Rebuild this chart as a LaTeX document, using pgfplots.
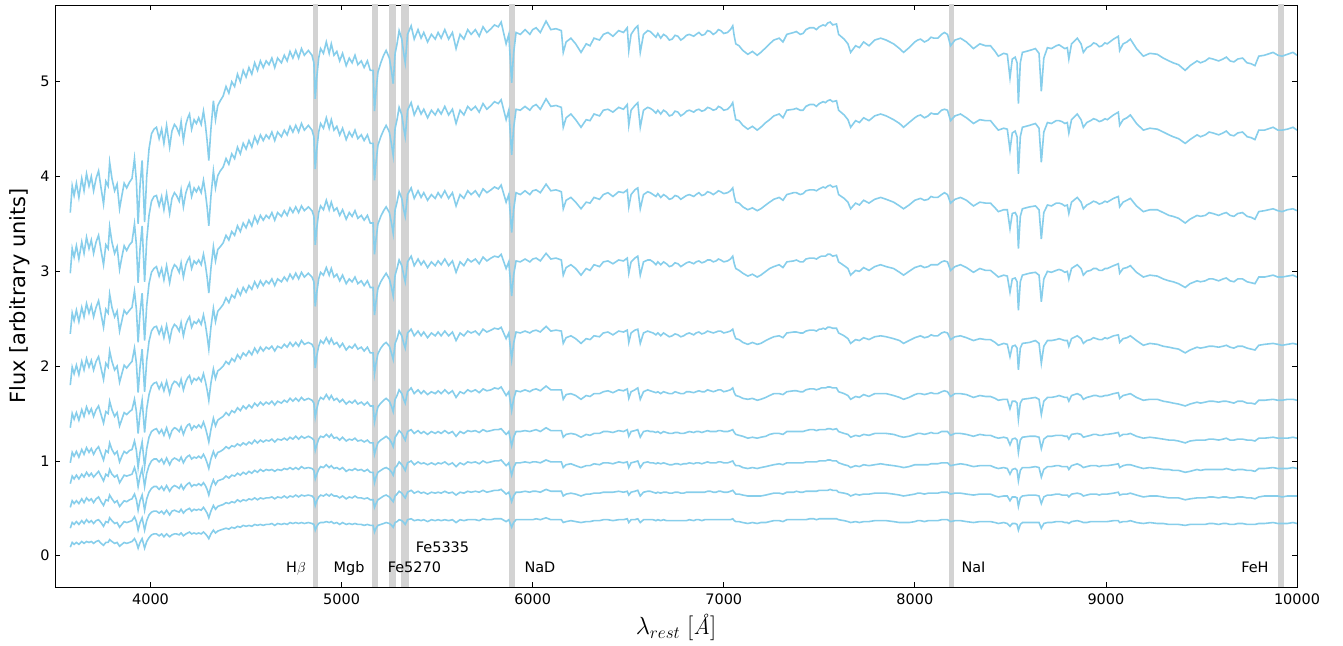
\documentclass[border=0pt]{standalone}
\usepackage{pgfplots}
\usepackage{pgfplotstable}
\pgfplotsset{compat=1.18}
\usepackage{fontspec}
\setmainfont{DejaVu Sans}
\newfontfamily\lmr{Latin Modern Roman}
\definecolor{sky}{RGB}{135,206,235}
\definecolor{bandgray}{RGB}{211,211,211}

\pgfplotstableread{
w s1 s2 s3 s4 s5 s6 s7 s8 s9 s10
3580 3.62 2.98 2.34 1.80 1.35 0.98 0.76 0.51 0.29 0.09
3590 3.90 3.24 2.56 1.99 1.50 1.09 0.84 0.58 0.35 0.14
3600 3.80 3.15 2.48 1.92 1.44 1.05 0.81 0.55 0.33 0.12
3612 3.93 3.27 2.59 2.01 1.51 1.10 0.85 0.58 0.36 0.14
3625 3.78 3.13 2.47 1.91 1.43 1.04 0.81 0.55 0.33 0.12
3640 3.98 3.31 2.62 2.05 1.54 1.12 0.86 0.60 0.37 0.15
3652 3.85 3.19 2.52 1.96 1.47 1.07 0.83 0.56 0.34 0.13
3665 4.03 3.36 2.66 2.08 1.57 1.14 0.88 0.61 0.38 0.15
3678 3.90 3.24 2.56 1.99 1.50 1.09 0.84 0.58 0.35 0.14
3690 4.00 3.33 2.64 2.06 1.55 1.13 0.87 0.60 0.37 0.15
3702 3.85 3.19 2.52 1.96 1.47 1.07 0.83 0.56 0.34 0.13
3715 3.98 3.31 2.62 2.05 1.54 1.12 0.86 0.60 0.37 0.15
3728 4.06 3.38 2.69 2.10 1.58 1.15 0.89 0.62 0.38 0.16
3741 3.88 3.22 2.55 1.98 1.49 1.08 0.84 0.57 0.35 0.13
3754 3.71 3.07 2.41 1.86 1.40 1.01 0.79 0.53 0.31 0.11
3766 3.95 3.28 2.60 2.03 1.52 1.11 0.86 0.59 0.36 0.14
3778 3.90 3.24 2.56 1.99 1.50 1.09 0.84 0.58 0.35 0.14
3786 4.15 3.47 2.76 2.16 1.63 1.19 0.91 0.64 0.40 0.17
3798 3.98 3.31 2.62 2.05 1.54 1.12 0.86 0.60 0.37 0.15
3812 3.85 3.19 2.52 1.96 1.47 1.07 0.83 0.56 0.34 0.13
3825 3.92 3.26 2.58 2.00 1.51 1.10 0.85 0.58 0.35 0.14
3838 3.66 3.02 2.37 1.83 1.37 0.99 0.77 0.52 0.30 0.10
3850 3.80 3.15 2.48 1.92 1.44 1.05 0.81 0.55 0.33 0.12
3862 3.93 3.27 2.59 2.01 1.51 1.10 0.85 0.58 0.36 0.14
3875 3.88 3.22 2.55 1.98 1.49 1.08 0.84 0.57 0.35 0.13
3890 3.94 3.28 2.59 2.02 1.52 1.11 0.85 0.59 0.36 0.14
3903 3.98 3.31 2.62 2.05 1.54 1.12 0.86 0.60 0.37 0.15
3916 4.19 3.50 2.79 2.19 1.65 1.21 0.93 0.65 0.41 0.18
3926 3.95 3.28 2.60 2.03 1.52 1.11 0.86 0.59 0.36 0.14
3935 3.50 2.88 2.25 1.72 1.29 0.93 0.73 0.48 0.27 0.08
3945 3.90 3.24 2.56 1.99 1.50 1.09 0.84 0.58 0.35 0.14
3956 4.17 3.48 2.77 2.18 1.64 1.20 0.92 0.64 0.40 0.18
3969 3.52 2.89 2.27 1.73 1.30 0.94 0.73 0.48 0.27 0.08
3980 4.00 3.33 2.64 2.06 1.55 1.13 0.87 0.60 0.37 0.15
3992 4.29 3.59 2.87 2.26 1.70 1.25 0.95 0.67 0.43 0.19
4005 4.45 3.74 2.99 2.37 1.79 1.31 1.00 0.71 0.46 0.22
4018 4.50 3.79 3.03 2.41 1.82 1.33 1.02 0.73 0.47 0.23
4031 4.52 3.80 3.05 2.42 1.83 1.34 1.02 0.73 0.47 0.23
4045 4.40 3.69 2.95 2.34 1.76 1.29 0.99 0.70 0.45 0.21
4058 4.50 3.79 3.03 2.41 1.82 1.33 1.02 0.73 0.47 0.23
4070 4.35 3.65 2.91 2.30 1.74 1.27 0.97 0.69 0.44 0.20
4084 4.54 3.82 3.06 2.43 1.84 1.35 1.03 0.74 0.48 0.23
4100 4.31 3.61 2.88 2.27 1.71 1.25 0.96 0.68 0.43 0.20
4112 4.48 3.77 3.01 2.39 1.80 1.32 1.01 0.72 0.47 0.22
4125 4.55 3.83 3.07 2.44 1.84 1.35 1.03 0.74 0.48 0.23
4136 4.52 3.80 3.05 2.42 1.83 1.34 1.02 0.73 0.47 0.23
4150 4.45 3.74 2.99 2.37 1.79 1.31 1.00 0.71 0.46 0.22
4160 4.58 3.86 3.09 2.46 1.86 1.36 1.04 0.75 0.49 0.24
4172 4.38 3.68 2.94 2.32 1.75 1.28 0.98 0.70 0.45 0.21
4185 4.55 3.83 3.07 2.44 1.84 1.35 1.03 0.74 0.48 0.23
4195 4.62 3.89 3.12 2.49 1.88 1.38 1.05 0.76 0.49 0.24
4204 4.66 3.93 3.15 2.52 1.90 1.39 1.06 0.77 0.50 0.25
4215 4.50 3.79 3.03 2.41 1.82 1.33 1.02 0.73 0.47 0.23
4228 4.60 3.88 3.11 2.47 1.87 1.37 1.04 0.75 0.49 0.24
4240 4.56 3.84 3.08 2.45 1.85 1.35 1.03 0.74 0.48 0.23
4252 4.62 3.89 3.12 2.49 1.88 1.38 1.05 0.76 0.49 0.24
4265 4.55 3.83 3.07 2.44 1.84 1.35 1.03 0.74 0.48 0.23
4277 4.69 3.96 3.18 2.54 1.92 1.41 1.07 0.77 0.51 0.25
4287 4.55 3.83 3.07 2.44 1.84 1.35 1.03 0.74 0.48 0.23
4296 4.38 3.68 2.94 2.32 1.75 1.28 0.98 0.70 0.45 0.21
4305 4.17 3.48 2.77 2.18 1.64 1.20 0.92 0.64 0.40 0.18
4316 4.50 3.79 3.03 2.41 1.82 1.33 1.02 0.73 0.47 0.23
4329 4.80 4.06 3.26 2.61 1.97 1.45 1.10 0.80 0.53 0.27
4340 4.60 3.88 3.11 2.47 1.87 1.37 1.04 0.75 0.49 0.24
4352 4.75 4.01 3.23 2.58 1.95 1.43 1.09 0.79 0.52 0.26
4365 4.80 4.06 3.26 2.61 1.97 1.45 1.10 0.80 0.53 0.27
4380 4.85 4.10 3.30 2.65 2.00 1.47 1.12 0.81 0.54 0.28
4395 4.95 4.19 3.38 2.72 2.05 1.51 1.15 0.84 0.56 0.29
4410 4.88 4.13 3.33 2.67 2.02 1.48 1.13 0.82 0.55 0.28
4425 5.00 4.24 3.42 2.75 2.08 1.53 1.16 0.85 0.57 0.30
4440 4.95 4.19 3.38 2.72 2.05 1.51 1.15 0.84 0.56 0.29
4455 5.08 4.31 3.48 2.81 2.12 1.56 1.18 0.87 0.59 0.31
4470 5.00 4.24 3.42 2.75 2.08 1.53 1.16 0.85 0.57 0.30
4485 5.12 4.35 3.51 2.83 2.14 1.58 1.19 0.88 0.59 0.32
4500 5.05 4.29 3.46 2.78 2.11 1.55 1.17 0.86 0.58 0.31
4515 5.15 4.38 3.54 2.85 2.16 1.59 1.20 0.89 0.60 0.32
4530 5.08 4.31 3.48 2.81 2.12 1.56 1.18 0.87 0.59 0.31
4545 5.20 4.42 3.58 2.89 2.19 1.61 1.22 0.90 0.61 0.33
4560 5.12 4.35 3.51 2.83 2.14 1.58 1.19 0.88 0.59 0.32
4575 5.22 4.44 3.59 2.90 2.20 1.62 1.22 0.91 0.61 0.33
4590 5.15 4.38 3.54 2.85 2.16 1.59 1.20 0.89 0.60 0.32
4605 5.22 4.44 3.59 2.90 2.20 1.62 1.22 0.91 0.61 0.33
4620 5.18 4.40 3.56 2.87 2.18 1.60 1.21 0.90 0.61 0.33
4635 5.25 4.47 3.62 2.92 2.21 1.63 1.23 0.91 0.62 0.34
4650 5.15 4.38 3.54 2.85 2.16 1.59 1.20 0.89 0.60 0.32
4665 5.25 4.47 3.62 2.92 2.21 1.63 1.23 0.91 0.62 0.34
4685 5.20 4.42 3.58 2.89 2.19 1.61 1.22 0.90 0.61 0.33
4700 5.28 4.49 3.64 2.94 2.23 1.64 1.24 0.92 0.63 0.34
4715 5.22 4.44 3.59 2.90 2.20 1.62 1.22 0.91 0.61 0.33
4730 5.32 4.53 3.67 2.97 2.25 1.66 1.25 0.93 0.63 0.35
4745 5.25 4.47 3.62 2.92 2.21 1.63 1.23 0.91 0.62 0.34
4760 5.33 4.54 3.68 2.98 2.25 1.66 1.26 0.93 0.64 0.35
4775 5.25 4.47 3.62 2.92 2.21 1.63 1.23 0.91 0.62 0.34
4790 5.35 4.56 3.69 2.99 2.27 1.67 1.26 0.94 0.64 0.35
4805 5.28 4.49 3.64 2.94 2.23 1.64 1.24 0.92 0.63 0.34
4826 5.33 4.54 3.68 2.98 2.25 1.66 1.26 0.93 0.64 0.35
4845 5.28 4.49 3.64 2.94 2.23 1.64 1.24 0.92 0.63 0.34
4855 5.20 4.42 3.58 2.89 2.19 1.61 1.22 0.90 0.61 0.33
4862 4.82 4.08 3.28 2.63 1.98 1.46 1.11 0.81 0.53 0.27
4870 5.05 4.29 3.46 2.78 2.11 1.55 1.17 0.86 0.58 0.31
4880 5.25 4.47 3.62 2.92 2.21 1.63 1.23 0.91 0.62 0.34
4890 5.35 4.56 3.69 2.99 2.27 1.67 1.26 0.94 0.64 0.35
4905 5.30 4.51 3.65 2.96 2.24 1.65 1.25 0.93 0.63 0.35
4920 5.42 4.62 3.75 3.04 2.30 1.70 1.28 0.96 0.65 0.36
4935 5.30 4.51 3.65 2.96 2.24 1.65 1.25 0.93 0.63 0.35
4946 5.40 4.60 3.73 3.03 2.29 1.69 1.28 0.95 0.65 0.36
4960 5.28 4.49 3.64 2.94 2.23 1.64 1.24 0.92 0.63 0.34
4975 5.32 4.53 3.67 2.97 2.25 1.66 1.25 0.93 0.63 0.35
4990 5.22 4.44 3.59 2.90 2.20 1.62 1.22 0.91 0.61 0.33
5005 5.30 4.51 3.65 2.96 2.24 1.65 1.25 0.93 0.63 0.35
5024 5.17 4.39 3.55 2.87 2.17 1.60 1.21 0.89 0.60 0.33
5040 5.25 4.47 3.62 2.92 2.21 1.63 1.23 0.91 0.62 0.34
5055 5.20 4.42 3.58 2.89 2.19 1.61 1.22 0.90 0.61 0.33
5070 5.28 4.49 3.64 2.94 2.23 1.64 1.24 0.92 0.63 0.34
5085 5.18 4.40 3.56 2.87 2.18 1.60 1.21 0.90 0.61 0.33
5103 5.22 4.44 3.59 2.90 2.20 1.62 1.22 0.91 0.61 0.33
5118 5.15 4.38 3.54 2.85 2.16 1.59 1.20 0.89 0.60 0.32
5135 5.22 4.44 3.59 2.90 2.20 1.62 1.22 0.91 0.61 0.33
5150 5.12 4.35 3.51 2.83 2.14 1.58 1.19 0.88 0.59 0.32
5165 5.12 4.35 3.51 2.83 2.14 1.58 1.19 0.88 0.59 0.32
5172 4.69 3.96 3.18 2.54 1.92 1.41 1.07 0.77 0.51 0.25
5180 4.90 4.15 3.34 2.68 2.03 1.49 1.13 0.83 0.55 0.29
5190 5.10 4.33 3.50 2.82 2.13 1.57 1.19 0.88 0.59 0.32
5205 5.20 4.42 3.58 2.89 2.19 1.61 1.22 0.90 0.61 0.33
5220 5.28 4.49 3.64 2.94 2.23 1.64 1.24 0.92 0.63 0.34
5233 5.33 4.54 3.68 2.98 2.25 1.66 1.26 0.93 0.64 0.35
5250 5.25 4.47 3.62 2.92 2.21 1.63 1.23 0.91 0.62 0.34
5262 5.10 4.33 3.50 2.82 2.13 1.57 1.19 0.88 0.59 0.32
5270 4.98 4.22 3.40 2.74 2.07 1.52 1.15 0.85 0.57 0.30
5280 5.30 4.51 3.65 2.96 2.24 1.65 1.25 0.93 0.63 0.35
5290 5.40 4.60 3.73 3.03 2.29 1.69 1.28 0.95 0.65 0.36
5301 5.54 4.73 3.84 3.12 2.37 1.75 1.32 0.99 0.68 0.38
5315 5.45 4.65 3.77 3.06 2.32 1.71 1.29 0.96 0.66 0.37
5325 5.30 4.51 3.65 2.96 2.24 1.65 1.25 0.93 0.63 0.35
5333 5.20 4.42 3.58 2.89 2.19 1.61 1.22 0.90 0.61 0.33
5345 5.50 4.70 3.81 3.10 2.35 1.73 1.31 0.98 0.67 0.38
5364 5.59 4.78 3.88 3.16 2.39 1.77 1.33 1.00 0.69 0.39
5380 5.45 4.65 3.77 3.06 2.32 1.71 1.29 0.96 0.66 0.37
5400 5.55 4.74 3.85 3.13 2.37 1.75 1.32 0.99 0.68 0.38
5416 5.46 4.66 3.78 3.07 2.32 1.71 1.29 0.97 0.66 0.37
5430 5.52 4.71 3.83 3.11 2.36 1.74 1.31 0.98 0.67 0.38
5450 5.42 4.62 3.75 3.04 2.30 1.70 1.28 0.96 0.65 0.36
5470 5.50 4.70 3.81 3.10 2.35 1.73 1.31 0.98 0.67 0.38
5490 5.45 4.65 3.77 3.06 2.32 1.71 1.29 0.96 0.66 0.37
5505 5.52 4.71 3.83 3.11 2.36 1.74 1.31 0.98 0.67 0.38
5521 5.46 4.66 3.78 3.07 2.32 1.71 1.29 0.97 0.66 0.37
5540 5.55 4.74 3.85 3.13 2.37 1.75 1.32 0.99 0.68 0.38
5560 5.45 4.65 3.77 3.06 2.32 1.71 1.29 0.96 0.66 0.37
5580 5.52 4.71 3.83 3.11 2.36 1.74 1.31 0.98 0.67 0.38
5599 5.35 4.56 3.69 2.99 2.27 1.67 1.26 0.94 0.64 0.35
5620 5.50 4.70 3.81 3.10 2.35 1.73 1.31 0.98 0.67 0.38
5640 5.45 4.65 3.77 3.06 2.32 1.71 1.29 0.96 0.66 0.37
5660 5.55 4.74 3.85 3.13 2.37 1.75 1.32 0.99 0.68 0.38
5678 5.50 4.70 3.81 3.10 2.35 1.73 1.31 0.98 0.67 0.38
5700 5.55 4.74 3.85 3.13 2.37 1.75 1.32 0.99 0.68 0.38
5720 5.48 4.68 3.79 3.08 2.33 1.72 1.30 0.97 0.67 0.37
5740 5.58 4.77 3.87 3.15 2.39 1.76 1.33 1.00 0.69 0.39
5760 5.52 4.71 3.83 3.11 2.36 1.74 1.31 0.98 0.67 0.38
5782 5.56 4.75 3.86 3.14 2.38 1.75 1.32 0.99 0.68 0.38
5800 5.60 4.79 3.89 3.16 2.40 1.77 1.33 1.00 0.69 0.39
5820 5.58 4.77 3.87 3.15 2.39 1.76 1.33 1.00 0.69 0.39
5835 5.63 4.81 3.91 3.18 2.41 1.78 1.34 1.01 0.70 0.39
5861 5.40 4.60 3.73 3.03 2.29 1.69 1.28 0.95 0.65 0.36
5875 5.50 4.70 3.81 3.10 2.35 1.73 1.31 0.98 0.67 0.38
5890 4.99 4.23 3.41 2.74 2.07 1.53 1.16 0.85 0.57 0.30
5900 5.30 4.51 3.65 2.96 2.24 1.65 1.25 0.93 0.63 0.35
5913 5.52 4.71 3.83 3.11 2.36 1.74 1.31 0.98 0.67 0.38
5935 5.50 4.70 3.81 3.10 2.35 1.73 1.31 0.98 0.67 0.38
5960 5.55 4.74 3.85 3.13 2.37 1.75 1.32 0.99 0.68 0.38
5985 5.50 4.70 3.81 3.10 2.35 1.73 1.31 0.98 0.67 0.38
6000 5.55 4.74 3.85 3.13 2.37 1.75 1.32 0.99 0.68 0.38
6018 5.57 4.76 3.86 3.14 2.38 1.76 1.33 0.99 0.68 0.39
6040 5.52 4.71 3.83 3.11 2.36 1.74 1.31 0.98 0.67 0.38
6070 5.64 4.82 3.92 3.19 2.42 1.79 1.35 1.01 0.70 0.40
6095 5.55 4.74 3.85 3.13 2.37 1.75 1.32 0.99 0.68 0.38
6122 5.56 4.75 3.86 3.14 2.38 1.75 1.32 0.99 0.68 0.38
6150 5.54 4.73 3.84 3.12 2.37 1.75 1.32 0.99 0.68 0.38
6160 5.31 4.52 3.66 2.96 2.24 1.65 1.25 0.93 0.63 0.35
6175 5.42 4.62 3.75 3.04 2.30 1.70 1.28 0.96 0.65 0.36
6200 5.46 4.66 3.78 3.07 2.32 1.71 1.29 0.97 0.66 0.37
6225 5.40 4.60 3.73 3.03 2.29 1.69 1.28 0.95 0.65 0.36
6253 5.31 4.52 3.66 2.96 2.24 1.65 1.25 0.93 0.63 0.35
6280 5.40 4.60 3.73 3.03 2.29 1.69 1.28 0.95 0.65 0.36
6300 5.38 4.59 3.72 3.01 2.28 1.68 1.27 0.95 0.65 0.36
6321 5.46 4.66 3.78 3.07 2.32 1.71 1.29 0.97 0.66 0.37
6350 5.44 4.64 3.76 3.05 2.31 1.71 1.29 0.96 0.66 0.37
6370 5.50 4.70 3.81 3.10 2.35 1.73 1.31 0.98 0.67 0.38
6394 5.52 4.71 3.83 3.11 2.36 1.74 1.31 0.98 0.67 0.38
6420 5.48 4.68 3.79 3.08 2.33 1.72 1.30 0.97 0.67 0.37
6450 5.54 4.73 3.84 3.12 2.37 1.75 1.32 0.99 0.68 0.38
6475 5.52 4.71 3.83 3.11 2.36 1.74 1.31 0.98 0.67 0.38
6495 5.57 4.76 3.86 3.14 2.38 1.76 1.33 0.99 0.68 0.39
6503 5.33 4.54 3.68 2.98 2.25 1.66 1.26 0.93 0.64 0.35
6515 5.50 4.70 3.81 3.10 2.35 1.73 1.31 0.98 0.67 0.38
6535 5.56 4.75 3.86 3.14 2.38 1.75 1.32 0.99 0.68 0.38
6550 5.59 4.78 3.88 3.16 2.39 1.77 1.33 1.00 0.69 0.39
6563 5.31 4.52 3.66 2.96 2.24 1.65 1.25 0.93 0.63 0.35
6580 5.50 4.70 3.81 3.10 2.35 1.73 1.31 0.98 0.67 0.38
6602 5.54 4.73 3.84 3.12 2.37 1.75 1.32 0.99 0.68 0.38
6615 5.53 4.72 3.83 3.12 2.36 1.74 1.31 0.98 0.68 0.38
6630 5.50 4.70 3.81 3.10 2.35 1.73 1.31 0.98 0.67 0.38
6645 5.47 4.67 3.79 3.07 2.33 1.72 1.30 0.97 0.66 0.37
6655 5.51 4.70 3.82 3.10 2.35 1.73 1.31 0.98 0.67 0.38
6670 5.46 4.66 3.78 3.07 2.32 1.71 1.29 0.97 0.66 0.37
6685 5.50 4.70 3.81 3.10 2.35 1.73 1.31 0.98 0.67 0.38
6700 5.48 4.68 3.79 3.08 2.33 1.72 1.30 0.97 0.67 0.37
6715 5.44 4.64 3.76 3.05 2.31 1.71 1.29 0.96 0.66 0.37
6730 5.45 4.65 3.77 3.06 2.32 1.71 1.29 0.96 0.66 0.37
6745 5.49 4.69 3.80 3.09 2.34 1.73 1.30 0.97 0.67 0.37
6760 5.48 4.68 3.79 3.08 2.33 1.72 1.30 0.97 0.67 0.37
6775 5.44 4.64 3.76 3.05 2.31 1.71 1.29 0.96 0.66 0.37
6790 5.46 4.66 3.78 3.07 2.32 1.71 1.29 0.97 0.66 0.37
6805 5.49 4.69 3.80 3.09 2.34 1.73 1.30 0.97 0.67 0.37
6820 5.50 4.70 3.81 3.10 2.35 1.73 1.31 0.98 0.67 0.38
6843 5.48 4.68 3.79 3.08 2.33 1.72 1.30 0.97 0.67 0.37
6855 5.50 4.70 3.81 3.10 2.35 1.73 1.31 0.98 0.67 0.38
6870 5.52 4.71 3.83 3.11 2.36 1.74 1.31 0.98 0.67 0.38
6885 5.49 4.69 3.80 3.09 2.34 1.73 1.30 0.97 0.67 0.37
6900 5.50 4.70 3.81 3.10 2.35 1.73 1.31 0.98 0.67 0.38
6915 5.54 4.73 3.84 3.12 2.37 1.75 1.32 0.99 0.68 0.38
6930 5.53 4.72 3.83 3.12 2.36 1.74 1.31 0.98 0.68 0.38
6945 5.50 4.70 3.81 3.10 2.35 1.73 1.31 0.98 0.67 0.38
6960 5.52 4.71 3.83 3.11 2.36 1.74 1.31 0.98 0.67 0.38
6972 5.55 4.74 3.85 3.13 2.37 1.75 1.32 0.99 0.68 0.38
6984 5.54 4.73 3.84 3.12 2.37 1.75 1.32 0.99 0.68 0.38
7000 5.51 4.70 3.82 3.10 2.35 1.73 1.31 0.98 0.67 0.38
7020 5.52 4.71 3.83 3.11 2.36 1.74 1.31 0.98 0.67 0.38
7035 5.55 4.74 3.85 3.13 2.37 1.75 1.32 0.99 0.68 0.38
7047 5.59 4.78 3.88 3.16 2.39 1.77 1.33 1.00 0.69 0.39
7055 5.48 4.68 3.79 3.08 2.33 1.72 1.30 0.97 0.67 0.37
7063 5.40 4.60 3.73 3.03 2.29 1.69 1.28 0.95 0.65 0.36
7080 5.38 4.59 3.72 3.01 2.28 1.68 1.27 0.95 0.65 0.36
7100 5.33 4.54 3.68 2.98 2.25 1.66 1.26 0.93 0.64 0.35
7126 5.29 4.50 3.65 2.95 2.23 1.65 1.24 0.92 0.63 0.34
7150 5.32 4.53 3.67 2.97 2.25 1.66 1.25 0.93 0.63 0.35
7175 5.28 4.49 3.64 2.94 2.23 1.64 1.24 0.92 0.63 0.34
7194 5.31 4.52 3.66 2.96 2.24 1.65 1.25 0.93 0.63 0.35
7220 5.36 4.57 3.70 3.00 2.27 1.67 1.26 0.94 0.64 0.35
7240 5.40 4.60 3.73 3.03 2.29 1.69 1.28 0.95 0.65 0.36
7262 5.44 4.64 3.76 3.05 2.31 1.71 1.29 0.96 0.66 0.37
7290 5.46 4.66 3.78 3.07 2.32 1.71 1.29 0.97 0.66 0.37
7310 5.42 4.62 3.75 3.04 2.30 1.70 1.28 0.96 0.65 0.36
7330 5.50 4.70 3.81 3.10 2.35 1.73 1.31 0.98 0.67 0.38
7366 5.52 4.71 3.83 3.11 2.36 1.74 1.31 0.98 0.67 0.38
7380 5.53 4.72 3.83 3.12 2.36 1.74 1.31 0.98 0.68 0.38
7400 5.50 4.70 3.81 3.10 2.35 1.73 1.31 0.98 0.67 0.38
7415 5.51 4.70 3.82 3.10 2.35 1.73 1.31 0.98 0.67 0.38
7430 5.55 4.74 3.85 3.13 2.37 1.75 1.32 0.99 0.68 0.38
7450 5.57 4.76 3.86 3.14 2.38 1.76 1.33 0.99 0.68 0.39
7471 5.57 4.76 3.86 3.14 2.38 1.76 1.33 0.99 0.68 0.39
7485 5.55 4.74 3.85 3.13 2.37 1.75 1.32 0.99 0.68 0.38
7500 5.58 4.77 3.87 3.15 2.39 1.76 1.33 1.00 0.69 0.39
7510 5.59 4.78 3.88 3.16 2.39 1.77 1.33 1.00 0.69 0.39
7520 5.60 4.79 3.89 3.16 2.40 1.77 1.33 1.00 0.69 0.39
7532 5.59 4.78 3.88 3.16 2.39 1.77 1.33 1.00 0.69 0.39
7544 5.62 4.80 3.90 3.18 2.41 1.78 1.34 1.01 0.69 0.39
7557 5.63 4.81 3.91 3.18 2.41 1.78 1.34 1.01 0.70 0.39
7570 5.60 4.79 3.89 3.16 2.40 1.77 1.33 1.00 0.69 0.39
7590 5.61 4.80 3.90 3.17 2.40 1.77 1.34 1.00 0.69 0.39
7601 5.50 4.70 3.81 3.10 2.35 1.73 1.31 0.98 0.67 0.38
7630 5.45 4.65 3.77 3.06 2.32 1.71 1.29 0.96 0.66 0.37
7650 5.40 4.60 3.73 3.03 2.29 1.69 1.28 0.95 0.65 0.36
7664 5.31 4.52 3.66 2.96 2.24 1.65 1.25 0.93 0.63 0.35
7690 5.38 4.59 3.72 3.01 2.28 1.68 1.27 0.95 0.65 0.36
7710 5.36 4.57 3.70 3.00 2.27 1.67 1.26 0.94 0.64 0.35
7732 5.42 4.62 3.75 3.04 2.30 1.70 1.28 0.96 0.65 0.36
7760 5.38 4.59 3.72 3.01 2.28 1.68 1.27 0.95 0.65 0.36
7790 5.44 4.64 3.76 3.05 2.31 1.71 1.29 0.96 0.66 0.37
7821 5.46 4.66 3.78 3.07 2.32 1.71 1.29 0.97 0.66 0.37
7850 5.44 4.64 3.76 3.05 2.31 1.71 1.29 0.96 0.66 0.37
7889 5.40 4.60 3.73 3.03 2.29 1.69 1.28 0.95 0.65 0.36
7920 5.35 4.56 3.69 2.99 2.27 1.67 1.26 0.94 0.64 0.35
7941 5.31 4.52 3.66 2.96 2.24 1.65 1.25 0.93 0.63 0.35
7970 5.36 4.57 3.70 3.00 2.27 1.67 1.26 0.94 0.64 0.35
8000 5.42 4.62 3.75 3.04 2.30 1.70 1.28 0.96 0.65 0.36
8015 5.44 4.64 3.76 3.05 2.31 1.71 1.29 0.96 0.66 0.37
8030 5.45 4.65 3.77 3.06 2.32 1.71 1.29 0.96 0.66 0.37
8050 5.42 4.62 3.75 3.04 2.30 1.70 1.28 0.96 0.65 0.36
8070 5.44 4.64 3.76 3.05 2.31 1.71 1.29 0.96 0.66 0.37
8085 5.47 4.67 3.79 3.07 2.33 1.72 1.30 0.97 0.66 0.37
8100 5.46 4.66 3.78 3.07 2.32 1.71 1.29 0.97 0.66 0.37
8120 5.46 4.66 3.78 3.07 2.32 1.71 1.29 0.97 0.66 0.37
8140 5.50 4.70 3.81 3.10 2.35 1.73 1.31 0.98 0.67 0.38
8155 5.52 4.71 3.83 3.11 2.36 1.74 1.31 0.98 0.67 0.38
8171 5.50 4.70 3.81 3.10 2.35 1.73 1.31 0.98 0.67 0.38
8187 5.38 4.59 3.72 3.01 2.28 1.68 1.27 0.95 0.65 0.36
8210 5.44 4.64 3.76 3.05 2.31 1.71 1.29 0.96 0.66 0.37
8239 5.46 4.66 3.78 3.07 2.32 1.71 1.29 0.97 0.66 0.37
8270 5.42 4.62 3.75 3.04 2.30 1.70 1.28 0.96 0.65 0.36
8307 5.35 4.56 3.69 2.99 2.27 1.67 1.26 0.94 0.64 0.35
8340 5.40 4.60 3.73 3.03 2.29 1.69 1.28 0.95 0.65 0.36
8370 5.38 4.59 3.72 3.01 2.28 1.68 1.27 0.95 0.65 0.36
8396 5.38 4.59 3.72 3.01 2.28 1.68 1.27 0.95 0.65 0.36
8420 5.32 4.53 3.67 2.97 2.25 1.66 1.25 0.93 0.63 0.35
8437 5.27 4.49 3.63 2.94 2.22 1.64 1.24 0.92 0.62 0.34
8465 5.30 4.51 3.65 2.96 2.24 1.65 1.25 0.93 0.63 0.35
8484 5.29 4.50 3.65 2.95 2.23 1.65 1.24 0.92 0.63 0.34
8498 5.04 4.28 3.45 2.78 2.10 1.55 1.17 0.86 0.58 0.31
8510 5.24 4.46 3.61 2.92 2.21 1.63 1.23 0.91 0.62 0.34
8525 5.26 4.48 3.62 2.93 2.22 1.63 1.24 0.92 0.62 0.34
8535 5.20 4.42 3.58 2.89 2.19 1.61 1.22 0.90 0.61 0.33
8542 4.77 4.03 3.24 2.59 1.96 1.44 1.09 0.79 0.52 0.27
8552 5.20 4.42 3.58 2.89 2.19 1.61 1.22 0.90 0.61 0.33
8563 5.31 4.52 3.66 2.96 2.24 1.65 1.25 0.93 0.63 0.35
8600 5.33 4.54 3.68 2.98 2.25 1.66 1.26 0.93 0.64 0.35
8631 5.35 4.56 3.69 2.99 2.27 1.67 1.26 0.94 0.64 0.35
8650 5.30 4.51 3.65 2.96 2.24 1.65 1.25 0.93 0.63 0.35
8662 4.90 4.15 3.34 2.68 2.03 1.49 1.13 0.83 0.55 0.29
8675 5.25 4.47 3.62 2.92 2.21 1.63 1.23 0.91 0.62 0.34
8694 5.36 4.57 3.70 3.00 2.27 1.67 1.26 0.94 0.64 0.35
8715 5.35 4.56 3.69 2.99 2.27 1.67 1.26 0.94 0.64 0.35
8740 5.38 4.59 3.72 3.01 2.28 1.68 1.27 0.95 0.65 0.36
8755 5.39 4.59 3.72 3.02 2.29 1.69 1.27 0.95 0.65 0.36
8770 5.37 4.58 3.71 3.01 2.28 1.68 1.27 0.94 0.64 0.36
8785 5.35 4.56 3.69 2.99 2.27 1.67 1.26 0.94 0.64 0.35
8798 5.36 4.57 3.70 3.00 2.27 1.67 1.26 0.94 0.64 0.35
8806 5.24 4.46 3.61 2.92 2.21 1.63 1.23 0.91 0.62 0.34
8820 5.40 4.60 3.73 3.03 2.29 1.69 1.28 0.95 0.65 0.36
8850 5.46 4.66 3.78 3.07 2.32 1.71 1.29 0.97 0.66 0.37
8870 5.40 4.60 3.73 3.03 2.29 1.69 1.28 0.95 0.65 0.36
8882 5.31 4.52 3.66 2.96 2.24 1.65 1.25 0.93 0.63 0.35
8900 5.36 4.57 3.70 3.00 2.27 1.67 1.26 0.94 0.64 0.35
8920 5.38 4.59 3.72 3.01 2.28 1.68 1.27 0.95 0.65 0.36
8935 5.41 4.61 3.74 3.03 2.30 1.69 1.28 0.95 0.65 0.36
8950 5.40 4.60 3.73 3.03 2.29 1.69 1.28 0.95 0.65 0.36
8965 5.37 4.58 3.71 3.01 2.28 1.68 1.27 0.94 0.64 0.36
8980 5.38 4.59 3.72 3.01 2.28 1.68 1.27 0.95 0.65 0.36
8995 5.41 4.61 3.74 3.03 2.30 1.69 1.28 0.95 0.65 0.36
9007 5.40 4.60 3.73 3.03 2.29 1.69 1.28 0.95 0.65 0.36
9040 5.45 4.65 3.77 3.06 2.32 1.71 1.29 0.96 0.66 0.37
9065 5.48 4.68 3.79 3.08 2.33 1.72 1.30 0.97 0.67 0.37
9072 5.33 4.54 3.68 2.98 2.25 1.66 1.26 0.93 0.64 0.35
9090 5.40 4.60 3.73 3.03 2.29 1.69 1.28 0.95 0.65 0.36
9110 5.42 4.62 3.75 3.04 2.30 1.70 1.28 0.96 0.65 0.36
9128 5.45 4.65 3.77 3.06 2.32 1.71 1.29 0.96 0.66 0.37
9160 5.35 4.56 3.69 2.99 2.27 1.67 1.26 0.94 0.64 0.35
9196 5.27 4.49 3.63 2.94 2.22 1.64 1.24 0.92 0.62 0.34
9230 5.30 4.51 3.65 2.96 2.24 1.65 1.25 0.93 0.63 0.35
9269 5.29 4.50 3.65 2.95 2.23 1.65 1.24 0.92 0.63 0.34
9300 5.25 4.47 3.62 2.92 2.21 1.63 1.23 0.91 0.62 0.34
9330 5.22 4.44 3.59 2.90 2.20 1.62 1.22 0.91 0.61 0.33
9352 5.20 4.42 3.58 2.89 2.19 1.61 1.22 0.90 0.61 0.33
9380 5.18 4.40 3.56 2.87 2.18 1.60 1.21 0.90 0.61 0.33
9415 5.12 4.35 3.51 2.83 2.14 1.58 1.19 0.88 0.59 0.32
9440 5.17 4.39 3.55 2.87 2.17 1.60 1.21 0.89 0.60 0.33
9477 5.22 4.44 3.59 2.90 2.20 1.62 1.22 0.91 0.61 0.33
9495 5.20 4.42 3.58 2.89 2.19 1.61 1.22 0.90 0.61 0.33
9520 5.22 4.44 3.59 2.90 2.20 1.62 1.22 0.91 0.61 0.33
9540 5.25 4.47 3.62 2.92 2.21 1.63 1.23 0.91 0.62 0.34
9560 5.24 4.46 3.61 2.92 2.21 1.63 1.23 0.91 0.62 0.34
9590 5.22 4.44 3.59 2.90 2.20 1.62 1.22 0.91 0.61 0.33
9613 5.24 4.46 3.61 2.92 2.21 1.63 1.23 0.91 0.62 0.34
9630 5.26 4.48 3.62 2.93 2.22 1.63 1.24 0.92 0.62 0.34
9650 5.22 4.44 3.59 2.90 2.20 1.62 1.22 0.91 0.61 0.33
9670 5.21 4.43 3.58 2.89 2.19 1.61 1.22 0.90 0.61 0.33
9690 5.24 4.46 3.61 2.92 2.21 1.63 1.23 0.91 0.62 0.34
9715 5.25 4.47 3.62 2.92 2.21 1.63 1.23 0.91 0.62 0.34
9739 5.20 4.42 3.58 2.89 2.19 1.61 1.22 0.90 0.61 0.33
9760 5.19 4.41 3.57 2.88 2.18 1.61 1.22 0.90 0.61 0.33
9780 5.17 4.39 3.55 2.87 2.17 1.60 1.21 0.89 0.60 0.33
9800 5.27 4.49 3.63 2.94 2.22 1.64 1.24 0.92 0.62 0.34
9830 5.28 4.49 3.64 2.94 2.23 1.64 1.24 0.92 0.63 0.34
9875 5.31 4.52 3.66 2.96 2.24 1.65 1.25 0.93 0.63 0.35
9900 5.28 4.49 3.64 2.94 2.23 1.64 1.24 0.92 0.63 0.34
9922 5.27 4.49 3.63 2.94 2.22 1.64 1.24 0.92 0.62 0.34
9950 5.29 4.50 3.65 2.95 2.23 1.65 1.24 0.92 0.63 0.34
9979 5.31 4.52 3.66 2.96 2.24 1.65 1.25 0.93 0.63 0.35
10000 5.28 4.49 3.64 2.94 2.23 1.64 1.24 0.92 0.63 0.34
}\spec

\begin{document}
\begin{tikzpicture}
\useasboundingbox (-55bp,-59bp) rectangle (1288bp,587bp);
\begin{axis}[
  scale only axis,
  width=1242bp, height=582bp,
  xmin=3500, xmax=10000, ymin=-0.33, ymax=5.81,
  xtick={4000,5000,6000,7000,8000,9000,10000},
  ytick={0,1,2,3,4,5},
  tick align=inside, tick pos=both,
  major tick length=5bp,
  axis line style={black, line width=0.9bp},
  every tick/.style={black, line width=0.8bp},
  scaled x ticks=false,
  /pgf/number format/1000 sep={},
  /pgf/number format/assume math mode=true,
  ticklabel style={font=\fontsize{14.5}{17}\selectfont},
  xticklabel style={yshift=-3bp},
  yticklabel style={xshift=-2bp},
  xlabel={$\lambda_{rest}\;[\mbox{\lmr\itshape Å}]$},
  xlabel style={font=\fontsize{23}{27}\selectfont, at={(axis description cs:0.5,-0.07)}, anchor=center},
  ylabel={Flux [arbitrary units]},
  ylabel style={font=\fontsize{21}{25}\selectfont, at={(axis description cs:-0.0282,0.5)}, anchor=center, rotate=0},
  clip=true,
]
% index bands
\addplot[fill=bandgray, draw=none, forget plot] coordinates {(4847.9,-1) (4876.6,-1) (4876.6,7) (4847.9,7)} -- cycle;
\addplot[fill=bandgray, draw=none, forget plot] coordinates {(5160.1,-1) (5192.6,-1) (5192.6,7) (5160.1,7)} -- cycle;
\addplot[fill=bandgray, draw=none, forget plot] coordinates {(5245.7,-1) (5285.7,-1) (5285.7,7) (5245.7,7)} -- cycle;
\addplot[fill=bandgray, draw=none, forget plot] coordinates {(5312.1,-1) (5352.1,-1) (5352.1,7) (5312.1,7)} -- cycle;
\addplot[fill=bandgray, draw=none, forget plot] coordinates {(5876.9,-1) (5909.4,-1) (5909.4,7) (5876.9,7)} -- cycle;
\addplot[fill=bandgray, draw=none, forget plot] coordinates {(8177,-1) (8205,-1) (8205,7) (8177,7)} -- cycle;
\addplot[fill=bandgray, draw=none, forget plot] coordinates {(9900,-1) (9930,-1) (9930,7) (9900,7)} -- cycle;
% spectra
\addplot[sky, line width=1.6bp] table[x=w, y=s1] {\spec};
\addplot[sky, line width=1.6bp] table[x=w, y=s2] {\spec};
\addplot[sky, line width=1.6bp] table[x=w, y=s3] {\spec};
\addplot[sky, line width=1.6bp] table[x=w, y=s4] {\spec};
\addplot[sky, line width=1.6bp] table[x=w, y=s5] {\spec};
\addplot[sky, line width=1.6bp] table[x=w, y=s6] {\spec};
\addplot[sky, line width=1.6bp] table[x=w, y=s7] {\spec};
\addplot[sky, line width=1.6bp] table[x=w, y=s8] {\spec};
\addplot[sky, line width=1.6bp] table[x=w, y=s9] {\spec};
\addplot[sky, line width=1.6bp] table[x=w, y=s10] {\spec};
% band labels
\begin{scope}[every node/.style={font=\fontsize{14.5}{17}\selectfont, anchor=base, inner sep=0pt}]
\node at (axis cs:4761,-0.182) {H$\beta$};
\node at (axis cs:5039,-0.182) {Mgb};
\node at (axis cs:5381,-0.182) {Fe5270};
\node at (axis cs:5528,0.029) {Fe5335};
\node at (axis cs:6038,-0.182) {NaD};
\node at (axis cs:8307,-0.182) {NaI};
\node at (axis cs:9780,-0.182) {FeH};
\end{scope}
\end{axis}
\end{tikzpicture}
\end{document}
